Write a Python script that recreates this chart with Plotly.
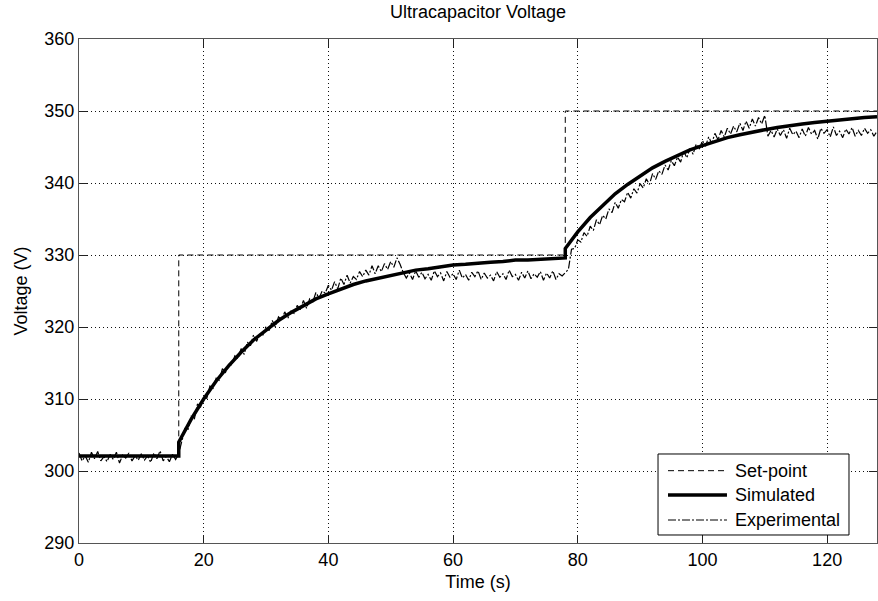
import plotly.graph_objects as go

# ---- data ----
setpoint_time = [0, 16, 16, 78, 78, 128]
setpoint_volt = [302.0, 302.0, 330.0, 330.0, 350.0, 350.0]

sim_time = [0, 16, 16,
            18, 20, 22, 24, 26, 28, 30, 32, 34, 36, 38, 40, 42, 44, 46, 48,
            50, 52, 54, 56, 58, 60, 62, 64, 66, 68, 70, 72, 74, 76, 78,
            78,
            80, 82, 84, 86, 88, 90, 92, 94, 96, 98, 100, 102, 104, 106, 108,
            110, 112, 114, 116, 118, 120, 122, 124, 126, 128]
sim_volt = [302.1, 302.1, 304.0,
            307.2, 310.0, 312.5, 314.6, 316.5, 318.2, 319.6, 320.9, 322.0, 323.0,
            323.9, 324.6, 325.3, 325.9, 326.4, 326.8, 327.2, 327.6, 327.9, 328.1,
            328.4, 328.6, 328.7, 328.9, 329.0, 329.1, 329.3, 329.3, 329.4, 329.5, 329.6,
            330.9,
            333.2, 335.2, 336.9, 338.5, 339.8, 341.0, 342.1, 343.0, 343.8, 344.6,
            345.2, 345.8, 346.3, 346.7, 347.1, 347.4, 347.7, 348.0, 348.2, 348.4,
            348.6, 348.8, 348.9, 349.1, 349.2]

# experimental samples, every 0.5 s starting at 0 s
exp_t0 = 0.0
exp_dt = 0.5
exp_volt = [
    302.5, 301.4, 302.1, 301.2, 302.6, 301.7, 302.7, 301.4, 302.0, 301.3,
    302.3, 301.6, 302.6, 301.1, 302.2, 301.8, 302.5, 301.4, 302.1, 301.5,
    302.4, 301.5, 302.1, 301.2, 302.5, 301.7, 302.8, 301.4, 302.0, 301.3,
    302.3, 301.6, 302.4, 304.2, 305.9, 305.8, 307.6, 307.2, 309.3, 308.9,
    310.2, 310.1, 311.8, 311.5, 312.9, 312.6, 314.2, 313.7, 314.8, 314.7,
    316.0, 315.6, 317.0, 316.2, 317.9, 317.4, 318.9, 318.0, 319.1, 318.9,
    320.1, 319.5, 320.9, 320.0, 321.4, 321.0, 322.1, 321.2, 322.2, 321.9,
    323.0, 322.4, 323.7, 322.6, 323.9, 323.5, 324.8, 324.0, 325.0, 324.7,
    325.8, 325.1, 326.3, 325.3, 326.8, 325.9, 327.2, 326.1, 327.0, 326.6,
    327.7, 327.0, 327.9, 327.2, 328.5, 327.4, 328.5, 327.7, 328.8, 328.0,
    329.1, 328.3, 329.6, 328.7, 327.6, 326.8, 327.5, 326.6, 327.8, 326.9,
    327.6, 326.7, 327.3, 326.5, 327.8, 327.0, 327.5, 326.4, 327.7, 326.9,
    327.4, 326.6, 327.9, 326.8, 327.3, 326.5, 327.6, 327.0, 327.8, 326.6,
    327.5, 326.8, 327.2, 326.4, 327.7, 326.9, 327.4, 326.6, 327.9, 327.0,
    327.3, 326.5, 327.6, 326.8, 327.8, 326.7, 327.4, 326.9, 327.7, 326.5,
    327.5, 326.8, 327.8, 326.6, 327.4, 327.1, 327.6, 328.0, 330.8, 330.9,
    332.1, 331.8, 333.1, 332.6, 334.0, 333.4, 334.9, 334.2, 335.5, 335.0,
    336.4, 335.9, 337.3, 336.5, 337.7, 337.4, 338.7, 337.9, 339.2, 338.6,
    339.9, 339.3, 340.6, 339.8, 341.3, 340.5, 341.7, 341.2, 342.5, 341.8,
    343.1, 342.4, 343.6, 342.9, 344.4, 343.5, 344.8, 344.0, 345.4, 344.7,
    345.9, 345.1, 346.4, 345.5, 346.9, 346.0, 347.3, 346.4, 347.6, 346.8,
    347.9, 347.1, 348.3, 347.3, 348.6, 347.6, 348.9, 347.9, 349.1, 348.2,
    349.4, 346.5, 347.3, 346.4, 347.5, 346.6, 347.4, 346.2, 347.6, 346.7,
    347.2, 346.3, 347.5, 346.5, 347.7, 346.8, 347.3, 346.1, 347.6, 346.9,
    347.4, 346.4, 347.8, 346.6, 347.2, 346.3, 347.5, 346.8, 347.7, 346.5,
    347.3, 346.6, 347.6, 346.9, 347.4, 346.5, 347.2,
]

x_ticks = [0, 20, 40, 60, 80, 100, 120]
y_ticks = [290, 300, 310, 320, 330, 340, 350, 360]

series_names = ["Set-point", "Simulated", "Experimental"]

FONT = "Liberation Sans, Arial, Helvetica, sans-serif"

styles = [
    dict(color="black", width=1, dash="6px,4px"),
    dict(color="black", width=3.5),
    dict(color="black", width=1.2, dash="8px,2px,2px,2px"),
]

fig = go.Figure()
fig.add_trace(go.Scatter(
    x=setpoint_time, y=setpoint_volt, mode="lines", name=series_names[0],
    line=styles[0], showlegend=False))
fig.add_trace(go.Scatter(
    x=sim_time, y=sim_volt, mode="lines", name=series_names[1],
    line=styles[1], showlegend=False))
fig.add_trace(go.Scatter(
    x0=exp_t0, dx=exp_dt, y=exp_volt, mode="lines", name=series_names[2],
    line=styles[2], showlegend=False))

axis_common = dict(
    showline=True, linecolor="#555555", linewidth=1, mirror="ticks",
    ticks="inside", ticklen=8, tickcolor="#222222", tickwidth=1,
    showgrid=True, gridcolor="#111111", gridwidth=1, griddash="1px,3px",
    zeroline=False, automargin=False,
    tickfont=dict(family=FONT, size=18, color="black"),
)

fig.update_xaxes(range=[0, 128], tickvals=x_ticks,
                 title=dict(text="Time (s)", font=dict(family=FONT, size=18, color="black"), standoff=6),
                 **axis_common)
fig.update_yaxes(range=[290, 360], tickvals=y_ticks,
                 title=dict(text="Voltage (V)", font=dict(family=FONT, size=18, color="black"), standoff=12),
                 **axis_common)

# legend box drawn in paper coordinates (MATLAB-style legend)
box_x0, box_x1 = 0.7256, 0.9649
box_y0, box_y1 = 0.0159, 0.1766
row_y = [0.1435, 0.0952, 0.0456]
line_x0, line_x1 = 0.7381, 0.8120
text_x = 0.8195

shapes = [dict(type="rect", xref="paper", yref="paper",
               x0=box_x0, x1=box_x1, y0=box_y0, y1=box_y1,
               line=dict(color="black", width=1), fillcolor="white", layer="above")]
annotations = []
for name, st, ry in zip(series_names, styles, row_y):
    shapes.append(dict(type="line", xref="paper", yref="paper",
                       x0=line_x0, x1=line_x1, y0=ry, y1=ry,
                       line=dict(color=st["color"], width=st["width"], dash=st.get("dash", "solid")),
                       layer="above"))
    annotations.append(dict(xref="paper", yref="paper", x=text_x, y=ry,
                            xanchor="left", yanchor="middle", text=name, showarrow=False,
                            font=dict(family=FONT, size=18, color="black")))

fig.update_layout(
    width=878, height=601,
    margin=dict(l=79, r=1, t=39, b=58, autoexpand=False),
    paper_bgcolor="white", plot_bgcolor="white",
    title=dict(text="Ultracapacitor Voltage", x=0.5, xref="paper", y=1 - 12 / 601, yanchor="middle",
               font=dict(family=FONT, size=18, color="black"), automargin=False),
    showlegend=False,
    shapes=shapes,
    annotations=annotations,
    font=dict(family=FONT, size=18, color="black"),
)

fig.write_html("out.html",
               config={"displayModeBar": False},
               post_script="document.body.style.margin='0';document.body.style.overflow='hidden';")
